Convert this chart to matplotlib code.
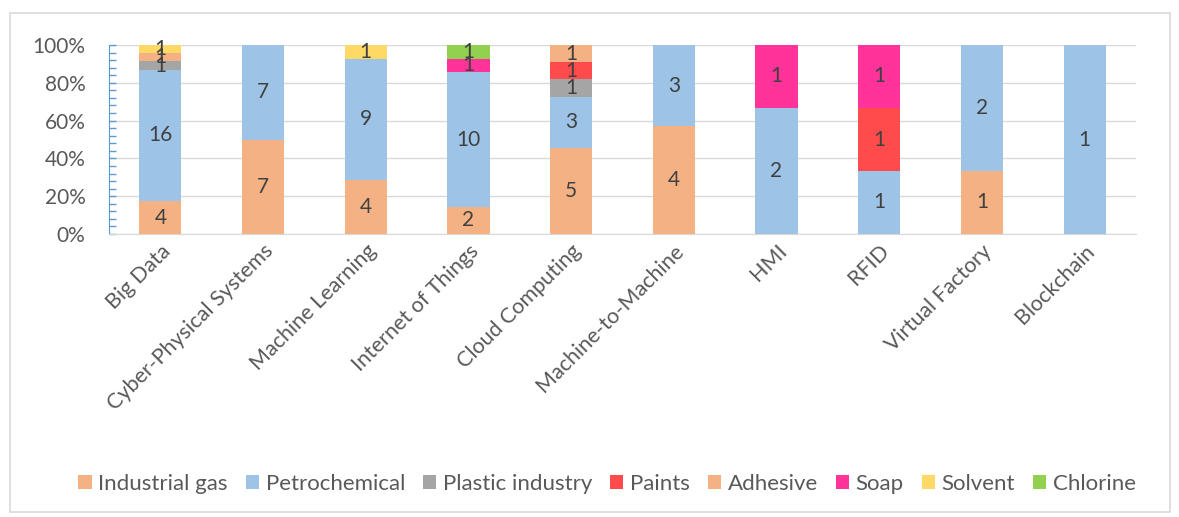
import numpy as np
import matplotlib

matplotlib.use("Agg")
import matplotlib.pyplot as plt
from matplotlib.patches import Rectangle

plt.rcParams["font.family"] = ["Lato", "DejaVu Sans"]

categories = ["Big Data", "Cyber-Physical Systems", "Machine Learning", "Internet of Things",
              "Cloud Computing", "Machine-to-Machine", "HMI", "RFID", "Virtual Factory", "Blockchain"]
series_names = ["Industrial gas", "Petrochemical", "Plastic industry", "Paints",
                "Adhesive", "Soap", "Solvent", "Chlorine"]
industrial_gas = [4, 7, 4, 2, 5, 4, 0, 0, 1, 0]
petrochemical = [16, 7, 9, 10, 3, 3, 2, 1, 2, 1]
plastic_industry = [1, 0, 0, 0, 1, 0, 0, 0, 0, 0]
paints = [0, 0, 0, 0, 1, 0, 0, 1, 0, 0]
adhesive = [1, 0, 0, 0, 1, 0, 0, 0, 0, 0]
soap = [0, 0, 0, 1, 0, 0, 1, 1, 0, 0]
solvent = [1, 0, 1, 0, 0, 0, 0, 0, 0, 0]
chlorine = [0, 0, 0, 1, 0, 0, 0, 0, 0, 0]
colors = ["#F4B183", "#9DC3E6", "#A5A5A5", "#FF4B4B", "#F4B183", "#FF3399", "#FFD966", "#92D050"]

data = np.array([industrial_gas, petrochemical, plastic_industry, paints,
                 adhesive, soap, solvent, chlorine], dtype=float)
totals = data.sum(axis=0)
share = data / totals

fig = plt.figure(figsize=(11.79, 5.17), dpi=100)
fig.patches.append(Rectangle((10 / 1179, 5 / 517), 1160 / 1179, 499 / 517, transform=fig.transFigure,
                             fill=False, edgecolor="#D9D9D9", linewidth=1.2))
ax = fig.add_axes([109 / 1179, 1 - 234 / 517, 1027 / 1179, 189 / 517])

x = np.arange(len(categories))
bottom = np.zeros(len(categories))
for name, vals, frac, col in zip(series_names, data, share, colors):
    ax.bar(x, frac, 0.41, bottom=bottom, color=col, label=name, zorder=3)
    for xi, v, f, b in zip(x, vals, frac, bottom):
        if v > 0:
            ax.text(xi, b + f / 2, f"{int(v)}", ha="center", va="center",
                    fontsize=15, color="#404040", zorder=4)
    bottom += frac

ax.set_xlim(-0.5, len(categories) - 0.5)
ax.set_ylim(0, 1)
ax.set_yticks(np.arange(0, 1.01, 0.2))
ax.set_yticklabels([f"{int(round(t * 100))}%" for t in np.arange(0, 1.01, 0.2)])
ax.set_yticks(np.arange(0, 1.001, 0.04), minor=True)
ax.yaxis.grid(True, color="#D9D9D9", linewidth=1, zorder=0)
ax.tick_params(axis="y", which="both", direction="in", color="#5B9BD5", length=5, width=1,
               labelsize=15, labelcolor="#595959", pad=17)
ax.tick_params(axis="x", length=0, labelsize=15.5, labelcolor="#595959", pad=5)
ax.set_xticks(x)
ax.set_xticklabels(categories, rotation=45, ha="right", rotation_mode="anchor")
for s in ["top", "right"]:
    ax.spines[s].set_visible(False)
ax.spines["left"].set_color("#5B9BD5")
ax.spines["bottom"].set_color("#D9D9D9")

fig.legend(loc="center", bbox_to_anchor=(0.515, 1 - 484 / 517), ncol=8, frameon=False,
           fontsize=16, handlelength=0.6, handleheight=0.6, handletextpad=0.3,
           columnspacing=0.8, labelcolor="#595959")

fig.savefig("out.png", dpi=100)
